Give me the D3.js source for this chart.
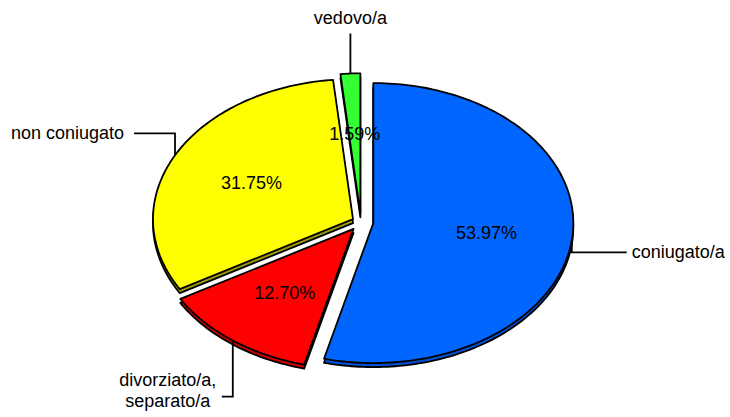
<!DOCTYPE html>
<html>
<head>
<meta charset="utf-8">
<script src="https://cdn.jsdelivr.net/npm/d3@7"></script>
<style>
  body { margin: 0; background: #fff; }
  svg text { font-family: Arial, "Liberation Sans", sans-serif; font-size: 18px; fill: #000; }
</style>
</head>
<body>
<div id="chart"></div>
<script>

// data
const categories = ["coniugato/a", "divorziato/a,|separato/a", "non coniugato", "vedovo/a"];
const values = [53.97, 12.70, 31.75, 1.59];
const fills = ["#0066ff", "#ff0000", "#ffff00", "#33ff33"];
const sides = ["#0050d8", "#cc0000", "#9c9c00", "#22bb22"];

const W = 730, H = 417;
const cx = 361, cy = 222, rx = 200, ry = 140;
const depth = 4, labelFrac = 0.57;
const explode = [0.062, 0.062, 0.045, 0.062];

// leader style per slice: which way the label sits
const leaders = [
    { dir: "right", len: 12, run: 55 },
    { dir: "down", len: 56, run: -11 },
    { dir: "up", len: -22, run: -41 },
    { dir: "top", len: -40, run: 0 }
];

const svg = d3.select("#chart").append("svg")
    .attr("width", W).attr("height", H);

const pie = d3.pie().sort(null).value(d => d)(values);

function pt(ox, oy, a, f) {
    return [ox + f * rx * Math.sin(a), oy - f * ry * Math.cos(a)];
}

const line = d3.line();

function slicePath(s, ox, oy) {
    const pts = [[ox, oy]];
    const n = Math.max(4, Math.ceil((s.endAngle - s.startAngle) / 0.02));
    d3.range(n + 1).forEach(i => {
        const a = s.startAngle + (s.endAngle - s.startAngle) * i / n;
        pts.push(pt(ox, oy, a, 1));
    });
    return line(pts) + "Z";
}

const slices = pie.map((s, i) => {
    const mid = (s.startAngle + s.endAngle) / 2;
    const o = pt(cx, cy, mid, explode[i]);
    return { s, i, mid, ox: o[0], oy: o[1] };
});

// bottom faces (give the thin 3d rim)
svg.append("g").selectAll("path")
    .data(slices).enter().append("path")
    .attr("d", d => slicePath(d.s, d.ox, d.oy + depth))
    .attr("fill", d => sides[d.i])
    .attr("stroke", "#000").attr("stroke-width", 1.8)
    .attr("stroke-linejoin", "round");

// top faces
svg.append("g").selectAll("path")
    .data(slices).enter().append("path")
    .attr("d", d => slicePath(d.s, d.ox, d.oy))
    .attr("fill", d => fills[d.i])
    .attr("stroke", "#000").attr("stroke-width", 1.8)
    .attr("stroke-linejoin", "round");

// percent labels
svg.append("g").selectAll("text")
    .data(slices).enter().append("text")
    .attr("x", d => pt(d.ox, d.oy, d.mid, labelFrac)[0])
    .attr("y", d => pt(d.ox, d.oy, d.mid, labelFrac)[1] + 6)
    .attr("text-anchor", "middle")
    .text(d => values[d.i].toFixed(2) + "%");

// leader lines + category labels
const lg = svg.append("g");
slices.forEach(d => {
    const L = leaders[d.i];
    const e = pt(d.ox, d.oy, d.mid, 1);
    const bend = [e[0], e[1] + L.len];
    const end = [bend[0] + L.run, bend[1]];
    lg.append("path")
        .attr("d", line([e, bend, end]))
        .attr("fill", "none").attr("stroke", "#000").attr("stroke-width", 1.8);

    const parts = categories[d.i].split("|");
    const t = lg.append("text");
    if (L.dir === "right") {
        t.attr("x", end[0] + 5).attr("y", end[1] + 6).attr("text-anchor", "start");
    } else if (L.dir === "up") {
        t.attr("x", end[0] - 10).attr("y", end[1] + 6).attr("text-anchor", "end");
    } else if (L.dir === "top") {
        t.attr("x", end[0]).attr("y", end[1] - 10).attr("text-anchor", "middle");
    } else {
        t.attr("x", end[0] - 54).attr("y", end[1] - 11).attr("text-anchor", "middle");
    }
    parts.forEach((p, k) => {
        t.append("tspan")
            .attr("x", t.attr("x"))
            .attr("dy", k === 0 ? 0 : 21)
            .text(p);
    });
});

</script>
</body>
</html>
